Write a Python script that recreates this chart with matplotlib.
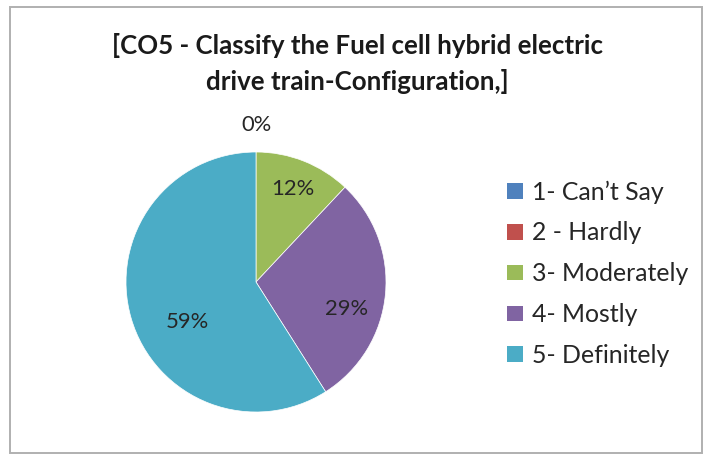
import matplotlib
matplotlib.use("Agg")
import matplotlib.pyplot as plt
from matplotlib.patches import Rectangle
import numpy as np

categories = ["1- Can\u2019t Say", "2 - Hardly", "3- Moderately", "4- Mostly", "5- Definitely"]
values = [0, 0, 12, 29, 59]
pct_labels = ["0%", "0%", "12%", "29%", "59%"]
colors = ["#4F81BD", "#C0504D", "#9BBB59", "#8064A2", "#4BACC6"]
title_lines = ["[CO5 - Classify the Fuel cell hybrid electric", "drive train-Configuration,]"]

plt.rcParams['font.family'] = ['Lato', 'DejaVu Sans']
TXT = "#262626"

W, H = 712, 458
fig = plt.figure(figsize=(W / 100, H / 100), dpi=100)
renderer = fig.canvas.get_renderer()


def fy(y):  # pixel-from-top -> figure fraction
    return 1 - y / H


def fit_size(s, target_px, base=12, **kw):
    t = fig.text(0, 0, s, fontsize=base, **kw)
    w = t.get_window_extent(renderer).width
    t.remove()
    return base * target_px / w


# outer chart border
fig.patches.append(Rectangle((10 / W, fy(453)), 692 / W, 446 / H, transform=fig.transFigure,
                             fill=False, edgecolor="#B0B0B0", linewidth=1.4))

# title
tsize = fit_size(title_lines[0], 488, fontweight="bold")
fig.text(357 / W, fy(45), title_lines[0], ha="center", va="center", fontsize=tsize,
         fontweight="bold", color="#1a1a1a")
fig.text(357 / W, fy(82), title_lines[1], ha="center", va="center", fontsize=tsize,
         fontweight="bold", color="#1a1a1a")

# pie
cx, cy, r = 256, 282, 130
ax = fig.add_axes([(cx - r) / W, (H - cy - r) / H, 2 * r / W, 2 * r / H])
wedges, _ = ax.pie(values, colors=colors, startangle=90, counterclock=False,
                   radius=1.0, wedgeprops=dict(edgecolor="white", linewidth=0.5))
ax.set_xlim(-1, 1)
ax.set_ylim(-1, 1)
ax.set_aspect("equal")
ax.axis("off")

psize = fit_size("12%", 43)
label_dist = [1.21, 1.21, 0.77, 0.73, 0.61]
label_ang = [0, 0, 0, -11, 14]
seen_angles = []
for w, v, lab, d, da in zip(wedges, values, pct_labels, label_dist, label_ang):
    mid_deg = ((w.theta1 + w.theta2) / 2) % 360
    # zero-size slices share one label spot; draw that label only once
    if v == 0 and any(abs(mid_deg - a) < 1 for a in seen_angles):
        continue
    if v == 0:
        seen_angles.append(mid_deg)
    mid = np.deg2rad(mid_deg + da)
    ax.text(d * np.cos(mid), d * np.sin(mid), lab, ha="center", va="center",
            fontsize=psize, color=TXT, clip_on=False)

# legend
lsize = fit_size(categories[2], 156)
row0, step, msz = 191, 40.8, 15.5
for i, (lab, c) in enumerate(zip(categories, colors)):
    yc = row0 + i * step
    fig.patches.append(Rectangle((507 / W, fy(yc + msz / 2)), msz / W, msz / H,
                                 transform=fig.transFigure, facecolor=c, edgecolor="none"))
    fig.text(532 / W, fy(yc + 1), lab, ha="left", va="center", fontsize=lsize, color=TXT)

fig.savefig("out.png", dpi=100)
